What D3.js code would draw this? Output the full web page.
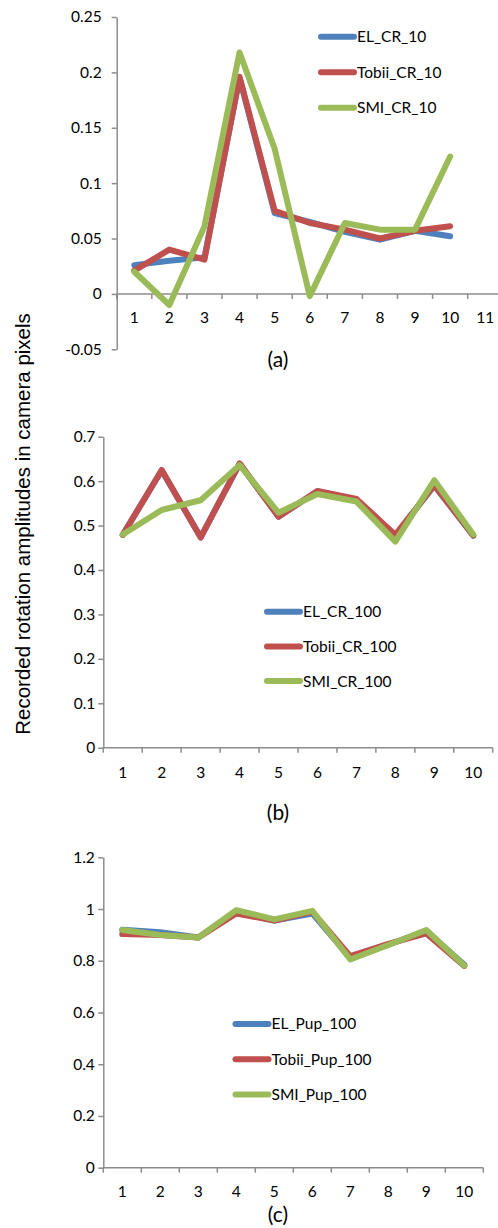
<!DOCTYPE html>
<html>
<head>
<meta charset="utf-8">
<script src="https://cdn.jsdelivr.net/npm/d3@7/dist/d3.min.js"></script>
<style>
  html, body { margin: 0; padding: 0; background: #fff; }
  svg { display: block; }
  .tick text, .lbl { font-family: Lato, "Open Sans", sans-serif; fill: #000; }
</style>
</head>
<body>
<svg id="chart" width="498" height="1228"></svg>
<script>
// ---- Panel (a): CR, 10 samples ----
const catsA = ["1", "2", "3", "4", "5", "6", "7", "8", "9", "10", "11"];
const yTicksA = [-0.05, 0, 0.05, 0.1, 0.15, 0.2, 0.25];
const yLabelsA = ["-0.05", "0", "0.05", "0.1", "0.15", "0.2", "0.25"];
const elCR10 = [0.026, 0.030, 0.033, 0.195, 0.073, 0.065, 0.056, 0.049, 0.057, 0.052];
const tobiiCR10 = [0.021, 0.040, 0.031, 0.196, 0.075, 0.064, 0.058, 0.050, 0.057, 0.061];
const smiCR10 = [0.020, -0.010, 0.061, 0.218, 0.131, -0.002, 0.064, 0.058, 0.058, 0.124];
const namesA = ["EL_CR_10", "Tobii_CR_10", "SMI_CR_10"];

// ---- Panel (b): CR, 100 samples ----
const catsB = ["1", "2", "3", "4", "5", "6", "7", "8", "9", "10"];
const yTicksB = [0, 0.1, 0.2, 0.3, 0.4, 0.5, 0.6, 0.7];
const yLabelsB = ["0", "0.1", "0.2", "0.3", "0.4", "0.5", "0.6", "0.7"];
const elCR100 = [0.479, 0.624, 0.474, 0.639, 0.520, 0.577, 0.559, 0.478, 0.590, 0.477];
const tobiiCR100 = [0.479, 0.625, 0.473, 0.640, 0.520, 0.578, 0.560, 0.479, 0.591, 0.478];
const smiCR100 = [0.480, 0.535, 0.557, 0.636, 0.529, 0.571, 0.554, 0.464, 0.602, 0.480];
const namesB = ["EL_CR_100", "Tobii_CR_100", "SMI_CR_100"];

// ---- Panel (c): pupil, 100 samples ----
const catsC = ["1", "2", "3", "4", "5", "6", "7", "8", "9", "10"];
const yTicksC = [0, 0.2, 0.4, 0.6, 0.8, 1, 1.2];
const yLabelsC = ["0", "0.2", "0.4", "0.6", "0.8", "1", "1.2"];
const elPup100 = [0.920, 0.910, 0.890, 0.990, 0.955, 0.983, 0.810, 0.862, 0.915, 0.785];
const tobiiPup100 = [0.903, 0.900, 0.890, 0.983, 0.955, 0.990, 0.818, 0.865, 0.906, 0.780];
const smiPup100 = [0.919, 0.900, 0.890, 0.996, 0.960, 0.993, 0.805, 0.861, 0.919, 0.781];
const namesC = ["EL_Pup_100", "Tobii_Pup_100", "SMI_Pup_100"];

const colors = ["#4F81BD", "#C0504D", "#9BBB59"];
const axisColor = "#8c8c8c";
const yTitle = "Recorded rotation amplitudes in camera pixels";
const fontSize = 15.5;

const svg = d3.select("#chart");

function drawPanel(p) {
  const g = svg.append("g");
  const x = d3.scaleBand().domain(p.cats).range(p.xRange).padding(0);
  const y = d3.scaleLinear().domain(p.yDomain).range(p.yRange);
  const x0 = p.xRange[0];

  // Y axis
  const yAxis = d3.axisLeft(y)
    .tickValues(p.yTicks)
    .tickFormat((d, i) => p.yLabels[i])
    .tickSize(5).tickSizeOuter(0).tickPadding(p.yPad);
  const ya = g.append("g").attr("transform", `translate(${x0},0)`).call(yAxis);
  ya.selectAll("path, line").attr("stroke", axisColor).attr("stroke-width", 1.5);
  ya.selectAll("text").attr("font-size", fontSize).attr("font-family", "Lato, sans-serif");

  // X axis: baseline at zero, ticks at category boundaries
  const y0 = y(0);
  const xEnd = p.axisEnd;
  g.append("line").attr("x1", x0).attr("x2", xEnd).attr("y1", y0).attr("y2", y0)
    .attr("stroke", axisColor).attr("stroke-width", 1.5);
  const bounds = p.cats.map(c => x(c)).concat([x.range()[1]]);
  g.selectAll("line.xt").data(bounds).join("line").attr("class", "xt")
    .attr("x1", d => d).attr("x2", d => d)
    .attr("y1", y0).attr("y2", y0 + 5)
    .attr("stroke", axisColor).attr("stroke-width", 1.5);
  g.selectAll("text.xl").data(p.cats).join("text").attr("class", "lbl xl")
    .attr("x", d => x(d) + x.bandwidth() / 2)
    .attr("y", y0 + p.xLabelOffset)
    .attr("dy", "0.35em")
    .attr("text-anchor", "middle")
    .attr("font-size", fontSize)
    .text(d => d);

  // Series lines
  const line = d3.line()
    .x((d, i) => x(p.cats[i]) + x.bandwidth() / 2)
    .y(d => y(d));
  p.series.forEach((s, k) => {
    g.append("path").datum(s)
      .attr("d", line)
      .attr("fill", "none")
      .attr("stroke", colors[k])
      .attr("stroke-width", 6)
      .attr("stroke-linejoin", "round")
      .attr("stroke-linecap", "round");
  });

  // Legend
  p.names.forEach((n, k) => {
    const ly = p.legend.y + k * p.legend.step;
    g.append("line")
      .attr("x1", p.legend.x).attr("x2", p.legend.x + 33)
      .attr("y1", ly).attr("y2", ly)
      .attr("stroke", colors[k]).attr("stroke-width", 6)
      .attr("stroke-linecap", "round");
    g.append("text").attr("class", "lbl")
      .attr("x", p.legend.x + 36).attr("y", ly)
      .attr("dy", "0.35em")
      .attr("font-size", fontSize)
      .text(n);
  });

  // Panel caption
  g.append("text").attr("class", "lbl")
    .attr("x", 278).attr("y", p.captionY)
    .attr("dy", "0.35em")
    .attr("text-anchor", "middle")
    .attr("font-size", 21)
    .text(p.caption);
}

drawPanel({
  cats: catsA, xRange: [116.7, 116.7 + 11 * 35.1], axisEnd: 498,
  yDomain: [-0.05, 0.25], yRange: [349.3, 17],
  yTicks: yTicksA, yLabels: yLabelsA, yPad: 10,
  xLabelOffset: 23.5,
  series: [elCR10, tobiiCR10, smiCR10], names: namesA,
  legend: { x: 321, y: 36.7, step: 35.5 },
  caption: "(a)", captionY: 360
});

drawPanel({
  cats: catsB, xRange: [103.3, 492.7], axisEnd: 492.7,
  yDomain: [0, 0.7], yRange: [747.7, 436.7],
  yTicks: yTicksB, yLabels: yLabelsB, yPad: 3,
  xLabelOffset: 24.5,
  series: [elCR100, tobiiCR100, smiCR100], names: namesB,
  legend: { x: 267, y: 611.7, step: 34.7 },
  caption: "(b)", captionY: 813
});

drawPanel({
  cats: catsC, xRange: [103.3, 483.3], axisEnd: 483.3,
  yDomain: [0, 1.2], yRange: [1167.7, 857.3],
  yTicks: yTicksC, yLabels: yLabelsC, yPad: 3.5,
  xLabelOffset: 24,
  series: [elPup100, tobiiPup100, smiPup100], names: namesC,
  legend: { x: 235.5, y: 1024, step: 35.2 },
  caption: "(c)", captionY: 1215
});

// Shared y-axis title
svg.append("text")
  .attr("transform", "translate(23,524) rotate(-90)")
  .attr("dy", "0.35em")
  .attr("text-anchor", "middle")
  .attr("font-family", "'Liberation Sans', Arial, sans-serif")
  .attr("font-size", 20.5)
  .attr("fill", "#000")
  .text(yTitle);
</script>
</body>
</html>
